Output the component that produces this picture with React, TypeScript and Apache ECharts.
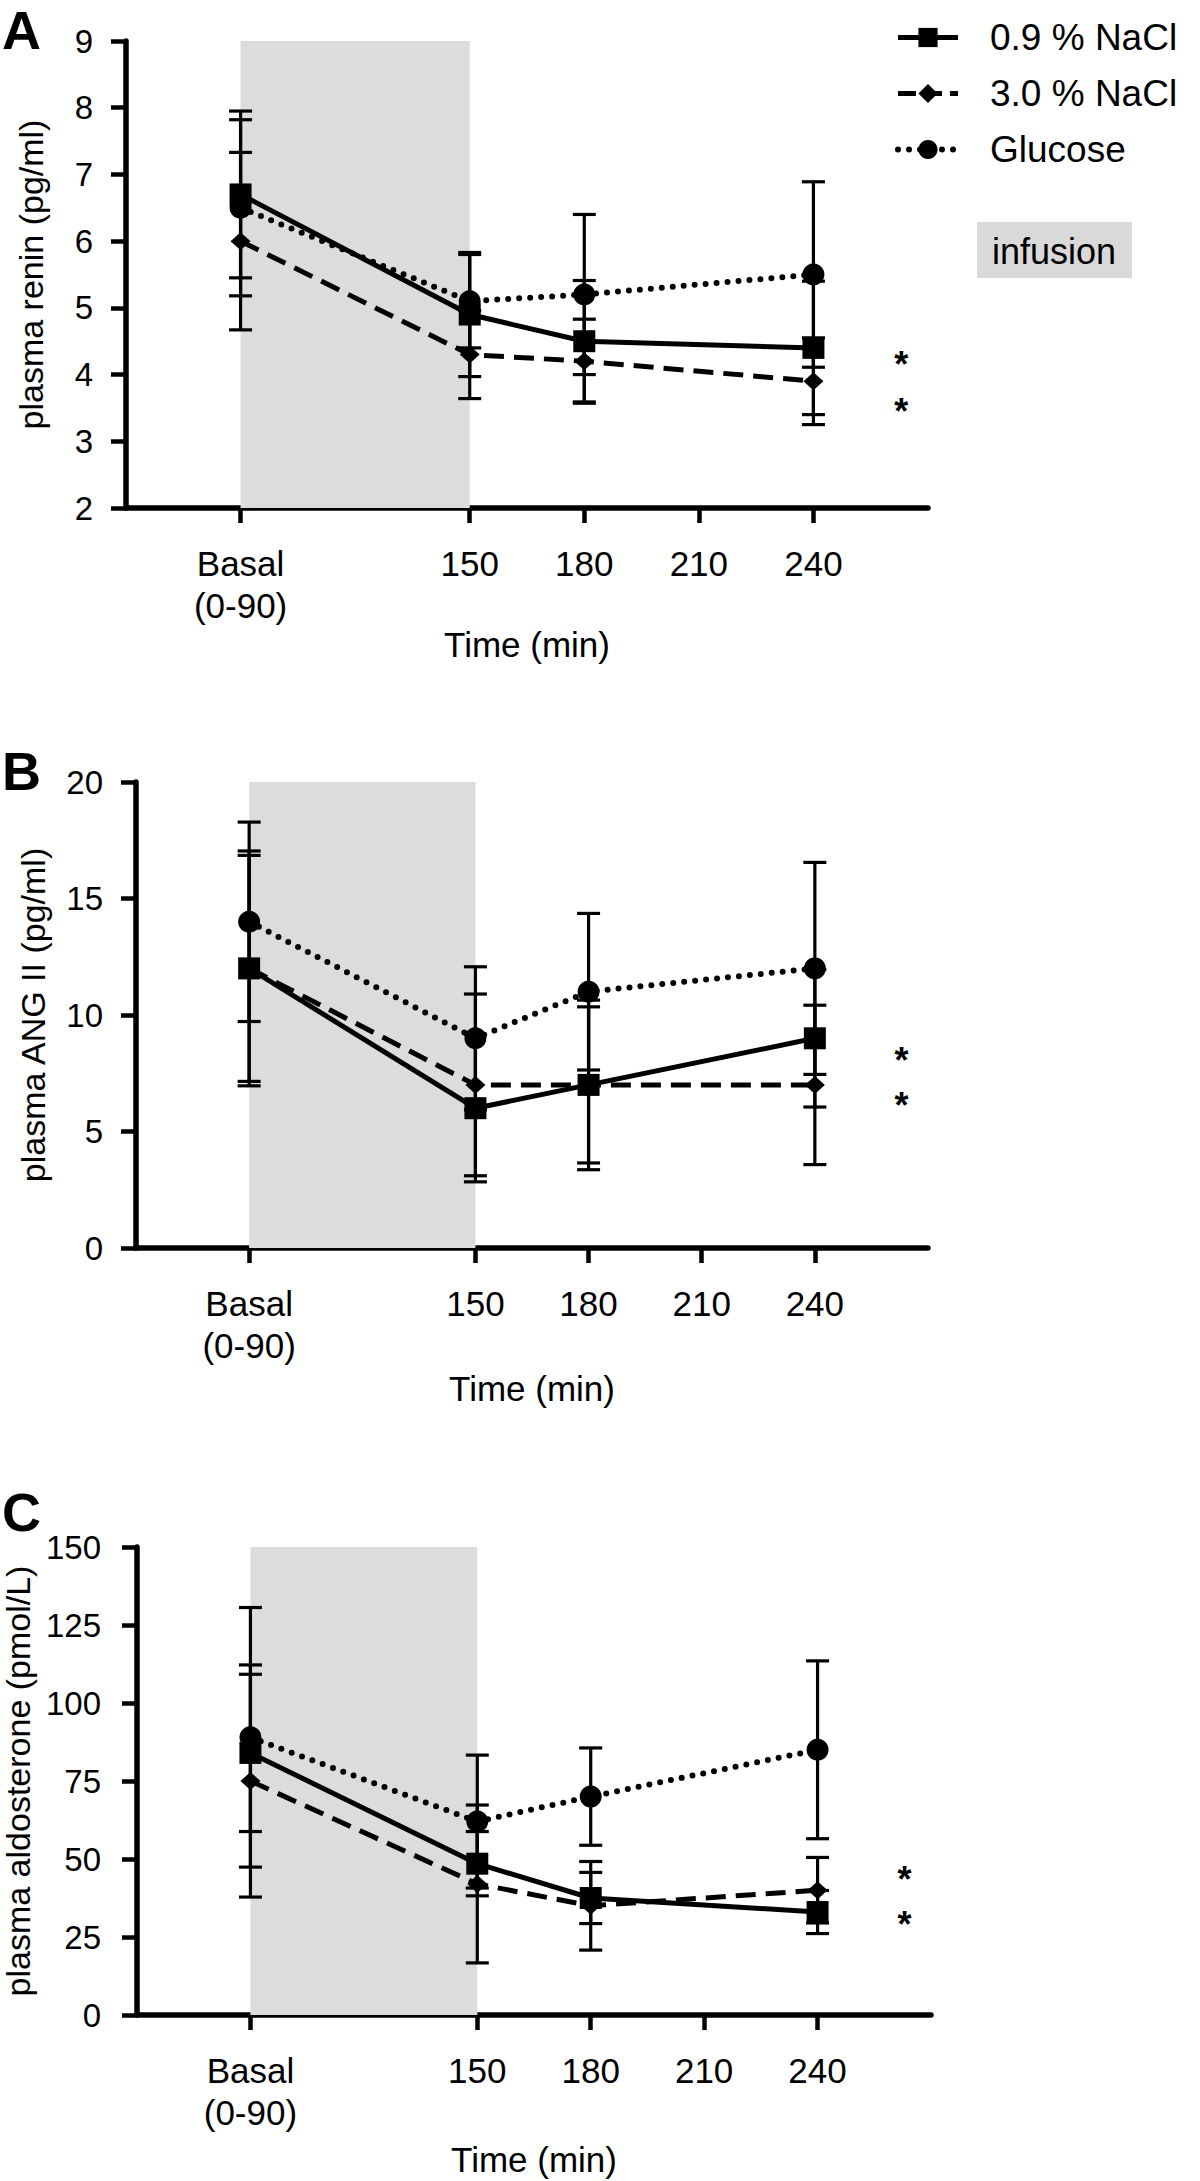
import React, { useEffect, useRef } from 'react';
import * as echarts from 'echarts';

const FONT = "'Liberation Sans', Arial, Helvetica, sans-serif";

// ---- shared categories / ticks ----
const seriesNames = ['0.9 % NaCl', '3.0 % NaCl', 'Glucose'];
const timePoints = [90, 150, 180, 240];
const xTicks = [90, 150, 180, 210, 240];
const xTickLabels = ['Basal\n(0-90)', '150', '180', '210', '240'];
const infusionWindow = [90, 150];
const starTime = 263;

// ---- Panel A: plasma renin (pg/ml) ----
const reninNaCl09 = [6.7, 4.9, 4.5, 4.4];
const reninNaCl09Sem = [1.25, 0.93, 0.91, 1.0];
const reninNaCl30 = [6.0, 4.3, 4.2, 3.9];
const reninNaCl30Sem = [1.33, 0.66, 0.63, 0.65];
const reninGlucose = [6.5, 5.1, 5.2, 5.5];
const reninGlucoseSem = [1.32, 0.7, 1.2, 1.39];
const reninStars = [4.15, 3.45];

// ---- Panel B: plasma ANG II (pg/ml) ----
const angNaCl09 = [12, 6, 7, 9];
const angNaCl09Sem = [5.04, 3.16, 3.64, 2.95];
const angNaCl30 = [12, 7, 7, 7];
const angNaCl30Sem = [4.85, 3.9, 3.35, 3.42];
const angGlucose = [14, 9, 11, 12];
const angGlucoseSem = [4.28, 3.07, 3.36, 4.55];
const angStars = [8.05, 6.1];

// ---- Panel C: plasma aldosterone (pmol/L) ----
const aldoNaCl09 = [84, 48.5, 37.5, 33];
const aldoNaCl09Sem = [25.2, 10.3, 8.2, 6.9];
const aldoNaCl30 = [75, 42, 35, 40];
const aldoNaCl30Sem = [37.2, 25.3, 14.2, 10.5];
const aldoGlucose = [89, 62, 70, 85];
const aldoGlucoseSem = [41.6, 21.3, 15.6, 28.5];
const aldoStars = [43.4, 28.9];

// ---- layout (positions / styles) ----
const panels = [
  {
    letter: 'A', letterY: 30,
    grid: { left: 126, top: 41, width: 802, height: 467 },
    yMin: 2, yMax: 9, yInterval: 1, yName: 'plasma renin (pg/ml)', yNameGap: 95, yLabelMargin: 33,
    xNameGap: 133,
    means: [reninNaCl09, reninNaCl30, reninGlucose],
    sems: [reninNaCl09Sem, reninNaCl30Sem, reninGlucoseSem],
    stars: reninStars,
  },
  {
    letter: 'B', letterY: 771,
    grid: { left: 136, top: 782, width: 792, height: 466 },
    yMin: 0, yMax: 20, yInterval: 5, yName: 'plasma ANG II (pg/ml)', yNameGap: 103, yLabelMargin: 33,
    xNameGap: 140,
    means: [angNaCl09, angNaCl30, angGlucose],
    sems: [angNaCl09Sem, angNaCl30Sem, angGlucoseSem],
    stars: angStars,
  },
  {
    letter: 'C', letterY: 1512,
    grid: { left: 137, top: 1547, width: 794, height: 468 },
    yMin: 0, yMax: 150, yInterval: 25, yName: 'plasma aldosterone (pmol/L)', yNameGap: 106, yLabelMargin: 36,
    xNameGap: 144,
    means: [aldoNaCl09, aldoNaCl30, aldoGlucose],
    sems: [aldoNaCl09Sem, aldoNaCl30Sem, aldoGlucoseSem],
    stars: aldoStars,
  },
];

const seriesStyles = [
  { symbol: 'rect', symbolSize: 22, lineStyle: { width: 5, type: 'solid' } },
  { symbol: 'diamond', symbolSize: [20, 18], lineStyle: { width: 5, type: [20, 10] } },
  { symbol: 'circle', symbolSize: 22, lineStyle: { width: 6, type: [0, 11], cap: 'round' } },
];
const legendLineStyles = [
  { width: 5, type: 'solid', color: '#000' },
  { width: 5, type: [18, 8], color: '#000' },
  { width: 6, type: [0, 11], cap: 'round', color: '#000' },
];

function buildOption() {
  const grid: any[] = [];
  const xAxis: any[] = [];
  const yAxis: any[] = [];
  const series: any[] = [];
  const graphic: any[] = [];

  panels.forEach((p, pi) => {
    grid.push({ ...p.grid, containLabel: false, outerBoundsMode: 'none' });
    xAxis.push({
      type: 'value', gridIndex: pi, min: 60, max: 270,
      splitLine: { show: false },
      axisLine: { lineStyle: { color: '#000', width: 5.5 } },
      axisTick: { show: true, customValues: xTicks, length: 15, lineStyle: { color: '#000', width: 4.5 } },
      axisLabel: {
        customValues: xTicks,
        formatter: (v: number) => xTickLabels[xTicks.indexOf(v)] ?? '',
        margin: 34, lineHeight: 42, fontSize: 35, fontFamily: FONT, color: '#000',
      },
      name: 'Time (min)', nameLocation: 'middle', nameGap: p.xNameGap,
      nameTextStyle: { fontSize: 35, fontFamily: FONT, color: '#000', verticalAlign: 'middle' },
    });
    yAxis.push({
      type: 'value', gridIndex: pi, min: p.yMin, max: p.yMax, interval: p.yInterval,
      splitLine: { show: false },
      axisLine: { show: true, lineStyle: { color: '#000', width: 5.5 } },
      axisTick: { show: true, length: 15, lineStyle: { color: '#000', width: 4.5 } },
      axisLabel: { margin: p.yLabelMargin, fontSize: 33, fontFamily: FONT, color: '#000' },
      name: p.yName, nameLocation: 'middle', nameGap: p.yNameGap,
      nameTextStyle: { fontSize: 34, fontFamily: FONT, color: '#000', verticalAlign: 'middle' },
    });

    // infusion shading
    series.push({
      name: 'infusion-' + pi, type: 'line', xAxisIndex: pi, yAxisIndex: pi, data: [], z: 0,
      markArea: {
        silent: true,
        itemStyle: { color: '#dcdcdc' },
        data: [[{ xAxis: infusionWindow[0] }, { xAxis: infusionWindow[1] }]],
      },
    });

    p.means.forEach((vals, si) => {
      const st = seriesStyles[si];
      series.push({
        name: seriesNames[si], type: 'line', xAxisIndex: pi, yAxisIndex: pi, z: 3,
        data: timePoints.map((t, i) => [t, vals[i]]),
        symbol: st.symbol, symbolSize: st.symbolSize,
        itemStyle: { color: '#000' },
        lineStyle: { color: '#000', ...st.lineStyle },
        emphasis: { disabled: true },
      });
      const sem = p.sems[si];
      series.push({
        name: 'err-' + pi + '-' + si, type: 'custom', xAxisIndex: pi, yAxisIndex: pi, z: 4,
        data: timePoints.map((t, i) => [t, vals[i], sem[i]]),
        encode: { x: 0, y: 1 },
        renderItem: (params: any, api: any) => {
          const x = api.value(0), m = api.value(1), e = api.value(2);
          const top = api.coord([x, m + e]);
          const bot = api.coord([x, m - e]);
          const style = { stroke: '#000', lineWidth: 3.2 };
          return {
            type: 'group',
            children: [
              { type: 'line', shape: { x1: top[0], y1: top[1], x2: bot[0], y2: bot[1] }, style },
              { type: 'line', shape: { x1: top[0] - 11.5, y1: top[1], x2: top[0] + 11.5, y2: top[1] }, style },
              { type: 'line', shape: { x1: bot[0] - 11.5, y1: bot[1], x2: bot[0] + 11.5, y2: bot[1] }, style },
            ],
          };
        },
      });
    });

    series.push({
      name: 'sig-' + pi, type: 'custom', xAxisIndex: pi, yAxisIndex: pi, z: 5,
      data: p.stars.map((v) => [starTime, v]),
      encode: { x: 0, y: 1 },
      renderItem: (params: any, api: any) => {
        const c = api.coord([api.value(0), api.value(1)]);
        return {
          type: 'text', x: c[0], y: c[1],
          style: { text: '*', fontSize: 36, fontWeight: 'bold', fontFamily: FONT, fill: '#000', align: 'center', verticalAlign: 'middle' },
        };
      },
    });

    graphic.push({
      type: 'text', left: 2, top: p.letterY - 27,
      style: { text: p.letter, fontSize: 54, fontWeight: 'bold', fontFamily: FONT, fill: '#000' },
    });
  });

  graphic.push({
    type: 'rect', shape: { x: 977, y: 222, width: 155, height: 56 },
    style: { fill: '#d9d9d9' },
  });
  graphic.push({
    type: 'text', x: 1054, y: 251,
    style: { text: 'infusion', fontSize: 36, fontFamily: FONT, fill: '#000', align: 'center', verticalAlign: 'middle' },
  });

  return {
    animation: false,
    backgroundColor: '#fff',
    grid, xAxis, yAxis, series, graphic,
    legend: {
      data: seriesNames.map((name, i) => ({ name, lineStyle: legendLineStyles[i] })),
      orient: 'vertical', left: 890, top: 14,
      itemWidth: 60, itemHeight: 24, itemGap: 19, selectedMode: false,
      textStyle: { fontSize: 37, fontFamily: FONT, color: '#000', padding: [0, 0, 0, 27], lineHeight: 24 },
    },
  };
}

export default function App() {
  const ref = useRef<HTMLDivElement>(null);
  useEffect(() => {
    if (!ref.current) return;
    const chart = echarts.init(ref.current, undefined, { renderer: 'svg' });
    chart.setOption(buildOption() as any);
    return () => chart.dispose();
  }, []);
  return (
    <div
      ref={ref}
      style={{ position: 'absolute', left: 0, top: 0, width: 1200, height: 2181, background: '#fff' }}
    />
  );
}
